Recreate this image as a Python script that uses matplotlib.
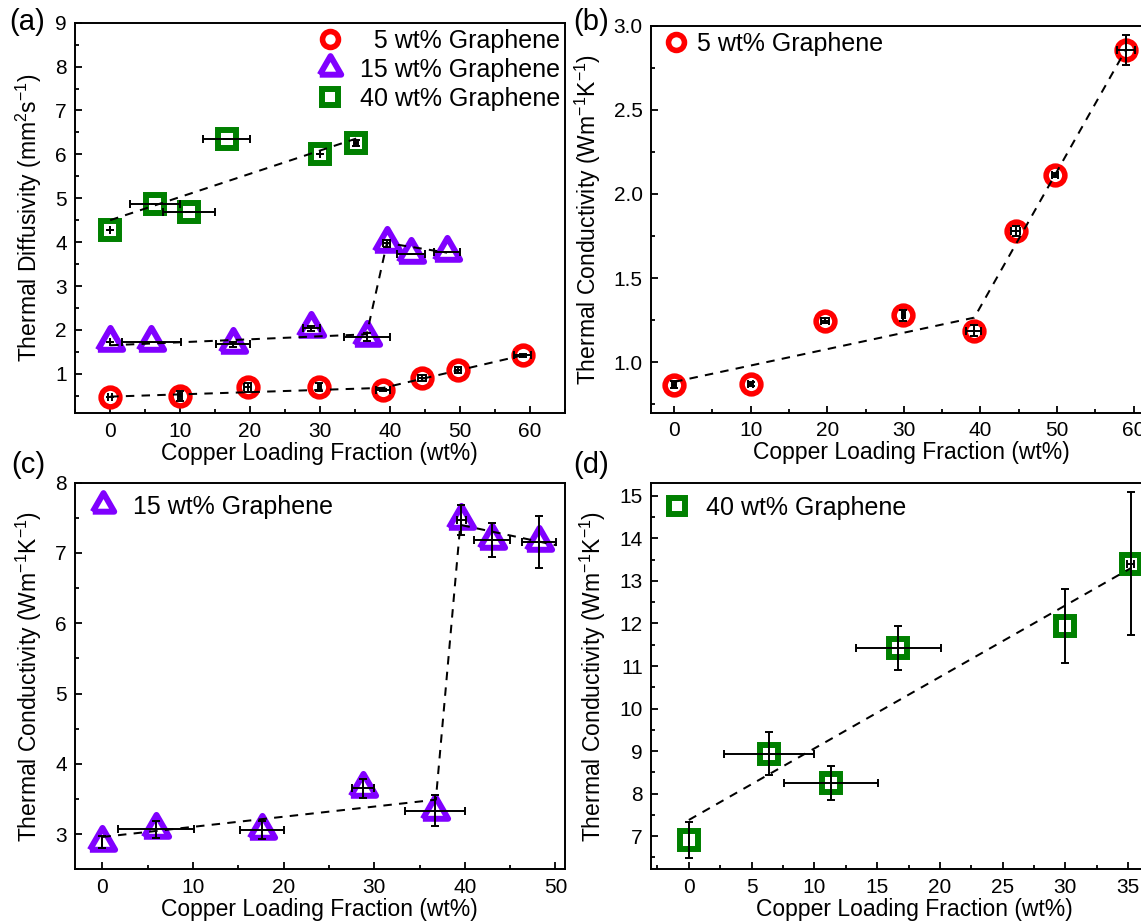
import matplotlib
matplotlib.use('Agg')
import matplotlib.pyplot as plt
from matplotlib.markers import MarkerStyle
from matplotlib.ticker import MultipleLocator

plt.rcParams['font.family'] = ['Liberation Sans', 'DejaVu Sans']
plt.rcParams['mathtext.fontset'] = 'custom'
plt.rcParams['mathtext.rm'] = 'Liberation Sans'
plt.rcParams['mathtext.default'] = 'regular'

# copper loading fraction (wt%) of the samples, per graphene loading
cu_5 = [0, 10, 19.7, 29.9, 39.1, 44.6, 49.8, 59.0]
cu_15 = [0, 5.9, 17.6, 28.8, 36.7, 39.6, 43.0, 48.2]
cu_40 = [0, 6.4, 11.3, 16.7, 30.0, 35.2]
cu_5_err = [0.3, 0.3, 0.5, 0.2, 1.0, 0.6, 0.4, 1.2]
cu_15_err = [0, 4.2, 2.4, 1.2, 3.3, 0.5, 2.0, 1.9]
cu_40_err = [0, 3.6, 3.75, 3.35, 0, 0.3]

# (a) thermal diffusivity (mm2/s)
diff_5 = [0.48, 0.49, 0.69, 0.69, 0.63, 0.90, 1.08, 1.42]
diff_5_err = [0, 0.11, 0.1, 0.09, 0.02, 0.07, 0.07, 0.03]
diff_15 = [1.72, 1.72, 1.67, 2.04, 1.84, 3.98, 3.73, 3.77]
diff_15_err = [0, 0, 0.06, 0.06, 0.1, 0.08, 0, 0]
diff_40 = [4.28, 4.87, 4.68, 6.35, 6.0, 6.25]
diff_40_err = [0, 0, 0, 0, 0, 0.07]

# (b)-(d) thermal conductivity (W/mK)
cond_5 = [0.867, 0.87, 1.246, 1.278, 1.188, 1.782, 2.115, 2.855]
cond_5_err = [0.023, 0.012, 0.015, 0.033, 0.035, 0.03, 0.012, 0.09]
cond_15 = [2.89, 3.07, 3.06, 3.65, 3.33, 7.47, 7.18, 7.16]
cond_15_err = [0.08, 0.12, 0.13, 0.13, 0.22, 0.21, 0.24, 0.37]
cond_40 = [6.91, 8.94, 8.25, 11.43, 11.94, 13.41]
cond_40_err = [0.43, 0.51, 0.40, 0.52, 0.86, 1.69]

# dashed guide lines
fit_a5_x, fit_a5_y = [0, 39.1, 59.0], [0.48, 0.68, 1.42]
fit_a15_x, fit_a15_y = [0, 36.7, 39.6, 48.2], [1.65, 1.90, 3.98, 3.76]
fit_a40_x, fit_a40_y = [0, 35.2], [4.5, 6.36]
fit_b_x, fit_b_y = [0, 39.2, 58.9], [0.883, 1.265, 2.85]
fit_c_x, fit_c_y = [0, 36.8, 39.5, 50.1], [2.96, 3.49, 7.40, 7.11]
fit_d_x, fit_d_y = [0, 35.2], [7.38, 13.3]

labels = ['\u20075 wt% Graphene', '15 wt% Graphene', '40 wt% Graphene']

red, purple, green = '#ff0000', '#8000ff', '#008000'
tri = MarkerStyle([(-1, -0.577), (1, -0.577), (0, 1.155), (-1, -0.577)], joinstyle='miter')
styles = {
    5: dict(marker='o', ms=13.5, mew=4.0, mec=red),
    15: dict(marker=tri, ms=21, mew=4.3, mec=purple),
    40: dict(marker='s', ms=13, mew=4.3, mec=green),
}


def points(ax, x, y, xerr, yerr, key, label=None):
    h, = ax.plot(x, y, ls='none', mfc='none', zorder=2, label=label, **styles[key])
    ax.errorbar(x, y, xerr=xerr, yerr=yerr, fmt='none', ecolor='k', elinewidth=1.4,
                capsize=3, capthick=1.4, zorder=3)
    return h


def guide(ax, x, y):
    ax.plot(x, y, color='k', ls='--', dashes=(4.2, 3.6), lw=1.45, zorder=4)


def style(ax, xmaj, xmin, ymaj, ymin):
    ax.xaxis.set_major_locator(MultipleLocator(xmaj))
    ax.xaxis.set_minor_locator(MultipleLocator(xmin))
    ax.yaxis.set_major_locator(MultipleLocator(ymaj))
    ax.yaxis.set_minor_locator(MultipleLocator(ymin))
    ax.tick_params(which='both', direction='in', top=False, right=False, width=1.3, labelsize=15, pad=6)
    ax.tick_params(which='major', length=5)
    ax.tick_params(which='minor', length=3)
    for s in ax.spines.values():
        s.set_linewidth(1.4)
    ax.set_xlabel('Copper Loading Fraction (wt%)', fontsize=16.5, labelpad=1)


fig = plt.figure(figsize=(11.41, 9.23), dpi=100)
W, H = 1141, 923

# (a)
ax = fig.add_axes([75.2 / W, 1 - 413.3 / H, 489.3 / W, 390.6 / H])
h1 = points(ax, cu_5, diff_5, cu_5_err, diff_5_err, 5, labels[0])
h2 = points(ax, cu_15, diff_15, cu_15_err, diff_15_err, 15, labels[1])
h3 = points(ax, cu_40, diff_40, cu_40_err, diff_40_err, 40, labels[2])
guide(ax, fit_a5_x, fit_a5_y)
guide(ax, fit_a15_x, fit_a15_y)
guide(ax, fit_a40_x, fit_a40_y)
ax.set_xlim(-5, 65)
ax.set_ylim(0.1, 9)
style(ax, 10, 5, 1, 0.5)
ax.set_ylabel('Thermal Diffusivity (mm$^2$s$^{-1}$)', fontsize=16.5, labelpad=8)
ax.legend(handles=[h1, h2, h3], loc='upper right', bbox_to_anchor=(0.991, 0.984), frameon=False,
          fontsize=18, handlelength=1.0, handletextpad=0.7, labelspacing=0.2,
          borderpad=0, borderaxespad=0, markerscale=0.85)

# (b)
ax = fig.add_axes([651.2 / W, 1 - 412.7 / H, 520.6 / W, 387.0 / H])
h = points(ax, cu_5, cond_5, cu_5_err, cond_5_err, 5, '5 wt% Graphene')
guide(ax, fit_b_x, fit_b_y)
ax.set_xlim(-3, 65)
ax.set_ylim(0.7, 3.0)
style(ax, 10, 5, 0.5, 0.25)
ax.set_ylabel('Thermal Conductivity (Wm$^{-1}$K$^{-1}$)', fontsize=16.5, labelpad=8)
ax.legend(handles=[h], loc='upper left', bbox_to_anchor=(0.023, 0.985), frameon=False,
          fontsize=18, handlelength=1.0, handletextpad=0.35, borderpad=0, borderaxespad=0,
          markerscale=0.85)

# (c)
ax = fig.add_axes([75.2 / W, 1 - 869.3 / H, 489.3 / W, 386.6 / H])
h = points(ax, cu_15, cond_15, cu_15_err, cond_15_err, 15, '15 wt% Graphene')
guide(ax, fit_c_x, fit_c_y)
ax.set_xlim(-3, 51)
ax.set_ylim(2.5, 8)
style(ax, 10, 5, 1, 0.5)
ax.set_ylabel('Thermal Conductivity (Wm$^{-1}$K$^{-1}$)', fontsize=16.5, labelpad=8)
ax.legend(handles=[h], loc='upper left', bbox_to_anchor=(0.031, 0.968), frameon=False,
          fontsize=18, handlelength=1.0, handletextpad=0.7, borderpad=0, borderaxespad=0,
          markerscale=0.85)

# (d)
ax = fig.add_axes([651.2 / W, 1 - 869.3 / H, 527.2 / W, 386.6 / H])
h = points(ax, cu_40, cond_40, cu_40_err, cond_40_err, 40, '40 wt% Graphene')
guide(ax, fit_d_x, fit_d_y)
ax.set_xlim(-3, 39)
ax.set_ylim(6.22, 15.31)
style(ax, 5, 2.5, 1, 0.5)
ax.set_ylabel('Thermal Conductivity (Wm$^{-1}$K$^{-1}$)', fontsize=16.5, labelpad=8)
ax.legend(handles=[h], loc='upper left', bbox_to_anchor=(0.026, 0.965), frameon=False,
          fontsize=18, handlelength=1.0, handletextpad=0.65, borderpad=0, borderaxespad=0,
          markerscale=0.85)

# panel letters
fig.text(9 / W, 1 - 21.7 / H, '(a)', fontsize=21, va='center', ha='left')
fig.text(573.6 / W, 1 - 21.7 / H, '(b)', fontsize=21, va='center', ha='left')
fig.text(11 / W, 1 - 465 / H, '(c)', fontsize=21, va='center', ha='left')
fig.text(573.6 / W, 1 - 465 / H, '(d)', fontsize=21, va='center', ha='left')

fig.savefig('out.png', dpi=100)
